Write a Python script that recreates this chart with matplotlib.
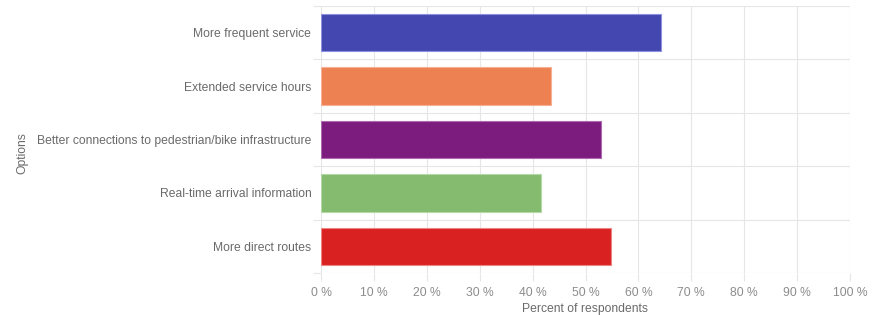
import matplotlib
matplotlib.use("Agg")
import matplotlib.pyplot as plt
import numpy as np

categories = ["More frequent service", "Extended service hours",
              "Better connections to pedestrian/bike infrastructure",
              "Real-time arrival information", "More direct routes"]
values = [64.2, 43.4, 52.9, 41.5, 54.8]
colors = ["#4347AF", "#EE8152", "#7B1C7E", "#84BB6E", "#D92121"]
edges = ["#8E91E0", "#F7B096", "#B06AB2", "#B5D9A6", "#EE8585"]
xticks = [0, 10, 20, 30, 40, 50, 60, 70, 80, 90, 100]
xticklabels = [f"{t} %" for t in xticks]

plt.rcParams['font.family'] = ['Liberation Sans', 'DejaVu Sans']
tc = "#6A6A6A"
xc = "#8C8C8C"
gc = "#E6E6E6"
fs = 8.7

fig = plt.figure(figsize=(8.75, 3.15), dpi=100)
ax = fig.add_axes([321/875, 1-273/315, (850-321)/875, (273-6)/315])

y = np.arange(len(categories))
ax.barh(y, values, height=0.7, color=colors, edgecolor=edges, linewidth=0.8, zorder=3)
ax.set_ylim(len(categories)-0.5, -0.5)
ax.set_xlim(0, 100)

ax.set_yticks(y)
ax.set_yticklabels(categories)
ax.set_yticks(np.arange(len(categories)+1)-0.5, minor=True)
ax.set_xticks(xticks)
ax.set_xticklabels(xticklabels)

ax.tick_params(axis='y', which='major', length=0, pad=7, labelsize=fs, labelcolor=tc)
ax.tick_params(axis='y', which='minor', length=6, color=gc, width=0.8)
ax.tick_params(axis='x', which='major', length=6, color=gc, width=0.8, pad=4, labelsize=fs, labelcolor=xc)

ax.grid(True, axis='x', which='major', color=gc, linewidth=0.8, zorder=0)
ax.grid(True, axis='y', which='minor', color=gc, linewidth=0.8, zorder=0)
ax.grid(False, axis='y', which='major')
for s in ax.spines.values():
    s.set_visible(False)

ax.set_xlabel("Percent of respondents", fontsize=fs, color=tc, labelpad=3)
fig.text(22/875, 1-153/315, "Options", rotation=90, fontsize=fs, color=tc, ha='center', va='center')

fig.savefig("out.png", dpi=100)
